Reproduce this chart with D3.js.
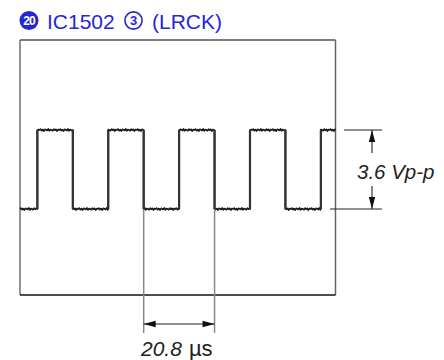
<!DOCTYPE html>
<html><head><meta charset="utf-8">
<script src="https://cdn.jsdelivr.net/npm/d3@7"></script>
<style>body{margin:0;background:#fff}svg{display:block}</style>
</head><body><svg id="c" width="444" height="360"></svg>
<script>
// ---- data ----
const titleBadge = "20";
const titleChip = "IC1502";
const titlePin = "3";
const titleSignal = "(LRCK)";
const risingEdges = [5.1, 25.9, 46.7, 67.5, 88.3];   // µs
const fallingEdges = [15.5, 36.3, 57.1, 77.9];       // µs
const levels = [0, 3.6];                              // V (low, high)
const timeSpan = [0, 92.6];                           // µs across screen
const noise = [0, 0.04, -0.03, 0.02, -0.05, 0.03, 0.01, -0.02, 0.05, -0.04, 0.02, 0, -0.03, 0.04, -0.01, 0.03, -0.05, 0.02]; // V
const periodMarks = [36.3, 57.1];                     // µs
const periodValue = "20.8";
const periodUnit = "µs";
const ampLabel = "3.6 Vp-p";

// ---- drawing ----
const svg = d3.select("#c");
const blue = "#2626d9";
const frame = {l: 20, r: 335.5, t: 40, b: 295};
const x = d3.scaleLinear().domain(timeSpan).range([frame.l, frame.r]);
const y = d3.scaleLinear().domain(levels).range([209, 130]);

// title
const tg = svg.append("g").attr("font-family", "Liberation Sans, Arial, sans-serif");
tg.append("circle").attr("cx", 29).attr("cy", 20.5).attr("r", 9.5).attr("fill", blue);
tg.append("text").attr("x", 29).attr("y", 25).attr("text-anchor", "middle")
  .attr("font-size", 12).attr("font-weight", "bold").attr("fill", "#fff")
  .attr("letter-spacing", -0.8).text(titleBadge);
tg.append("text").attr("x", 47).attr("y", 28.5).attr("font-size", 21).attr("fill", blue).text(titleChip);
tg.append("circle").attr("cx", 133.5).attr("cy", 20.5).attr("r", 8.6).attr("fill", "none")
  .attr("stroke", blue).attr("stroke-width", 1.6);
tg.append("text").attr("x", 133.5).attr("y", 25.3).attr("text-anchor", "middle")
  .attr("font-size", 13).attr("font-weight", "bold").attr("fill", blue).text(titlePin);
tg.append("text").attr("x", 152).attr("y", 28.5).attr("font-size", 21).attr("fill", blue).text(titleSignal);

// frame
svg.append("line").attr("x1", frame.l).attr("x2", frame.l).attr("y1", frame.t).attr("y2", frame.b)
  .attr("stroke", "#888").attr("stroke-width", 1.8);
svg.append("line").attr("x1", frame.l).attr("x2", frame.r).attr("y1", frame.t).attr("y2", frame.t)
  .attr("stroke", "#555").attr("stroke-width", 1.5);
svg.append("line").attr("x1", frame.r).attr("x2", frame.r).attr("y1", frame.t).attr("y2", frame.b)
  .attr("stroke", "#666").attr("stroke-width", 1.5);
svg.append("line").attr("x1", frame.l).attr("x2", frame.r).attr("y1", frame.b).attr("y2", frame.b)
  .attr("stroke", "#111").attr("stroke-width", 1.3);

// waveform
const edges = risingEdges.map(t => ({t, to: 1})).concat(fallingEdges.map(t => ({t, to: 0})))
  .sort((a, b) => a.t - b.t);
const pts = [];
let state = 0, t0 = timeSpan[0], k = 0;
const segs = edges.map(e => e.t).concat([timeSpan[1]]);
segs.forEach((t1, i) => {
  const lv = levels[state];
  for (let t = t0; t < t1; t += 0.32) {
    pts.push([t, lv + noise[k % noise.length]]); k++;
  }
  pts.push([t1, lv]);
  if (i < edges.length) { state = edges[i].to; pts.push([t1, levels[state]]); }
  t0 = t1;
});
svg.append("path").datum(pts)
  .attr("d", d3.line().x(d => x(d[0])).y(d => y(d[1])))
  .attr("fill", "none").attr("stroke", "#1a1a1a").attr("stroke-width", 1.7)
  .attr("stroke-linejoin", "round");
// emphasise vertical edges (scope trace is thicker on transitions)
svg.append("g").selectAll("line").data(edges).join("line")
  .attr("x1", d => x(d.t)).attr("x2", d => x(d.t))
  .attr("y1", y(levels[0])).attr("y2", y(levels[1]))
  .attr("stroke", "#333").attr("stroke-width", 2.2);

// amplitude dimension
const dimX = 372;
svg.append("line").attr("x1", 344).attr("x2", 382).attr("y1", y(levels[1])).attr("y2", y(levels[1]))
  .attr("stroke", "#222").attr("stroke-width", 1.1);
svg.append("line").attr("x1", 330).attr("x2", 382).attr("y1", y(levels[0])).attr("y2", y(levels[0]))
  .attr("stroke", "#222").attr("stroke-width", 1.1);
svg.append("line").attr("x1", dimX).attr("x2", dimX).attr("y1", y(levels[1])).attr("y2", 153)
  .attr("stroke", "#222").attr("stroke-width", 1.1);
svg.append("line").attr("x1", dimX).attr("x2", dimX).attr("y1", 186).attr("y2", y(levels[0]))
  .attr("stroke", "#222").attr("stroke-width", 1.1);
function arrow(xt, yt, dir) {
  const L = 12, W = 3.2;
  let p;
  if (dir === "up") p = [[xt, yt], [xt - W, yt + L], [xt + W, yt + L]];
  if (dir === "down") p = [[xt, yt], [xt - W, yt - L], [xt + W, yt - L]];
  if (dir === "left") p = [[xt, yt], [xt + L, yt - W], [xt + L, yt + W]];
  if (dir === "right") p = [[xt, yt], [xt - L, yt - W], [xt - L, yt + W]];
  svg.append("path").attr("d", "M" + p.join("L") + "Z").attr("fill", "#111");
}
arrow(dimX, y(levels[1]), "up");
arrow(dimX, y(levels[0]), "down");
svg.append("text").attr("x", 357).attr("y", 179).attr("font-family", "Liberation Sans, Arial, sans-serif")
  .attr("font-size", 20.5).attr("font-style", "italic").attr("fill", "#222").text(ampLabel);

// period dimension
const dimY = 324;
periodMarks.forEach(t => {
  svg.append("line").attr("x1", x(t)).attr("x2", x(t)).attr("y1", y(levels[0])).attr("y2", 333)
    .attr("stroke", "#888").attr("stroke-width", 1.5);
});
svg.append("line").attr("x1", x(periodMarks[0])).attr("x2", x(periodMarks[1])).attr("y1", dimY).attr("y2", dimY)
  .attr("stroke", "#222").attr("stroke-width", 1.1);
arrow(x(periodMarks[0]), dimY, "left");
arrow(x(periodMarks[1]), dimY, "right");
const pt = svg.append("text").attr("x", 141).attr("y", 356).attr("font-family", "Liberation Sans, Arial, sans-serif")
  .attr("font-size", 21).attr("fill", "#222");
pt.append("tspan").attr("font-style", "italic").text(periodValue);
pt.append("tspan").attr("dx", 7).attr("font-size", 22).text(periodUnit);
</script></body></html>
